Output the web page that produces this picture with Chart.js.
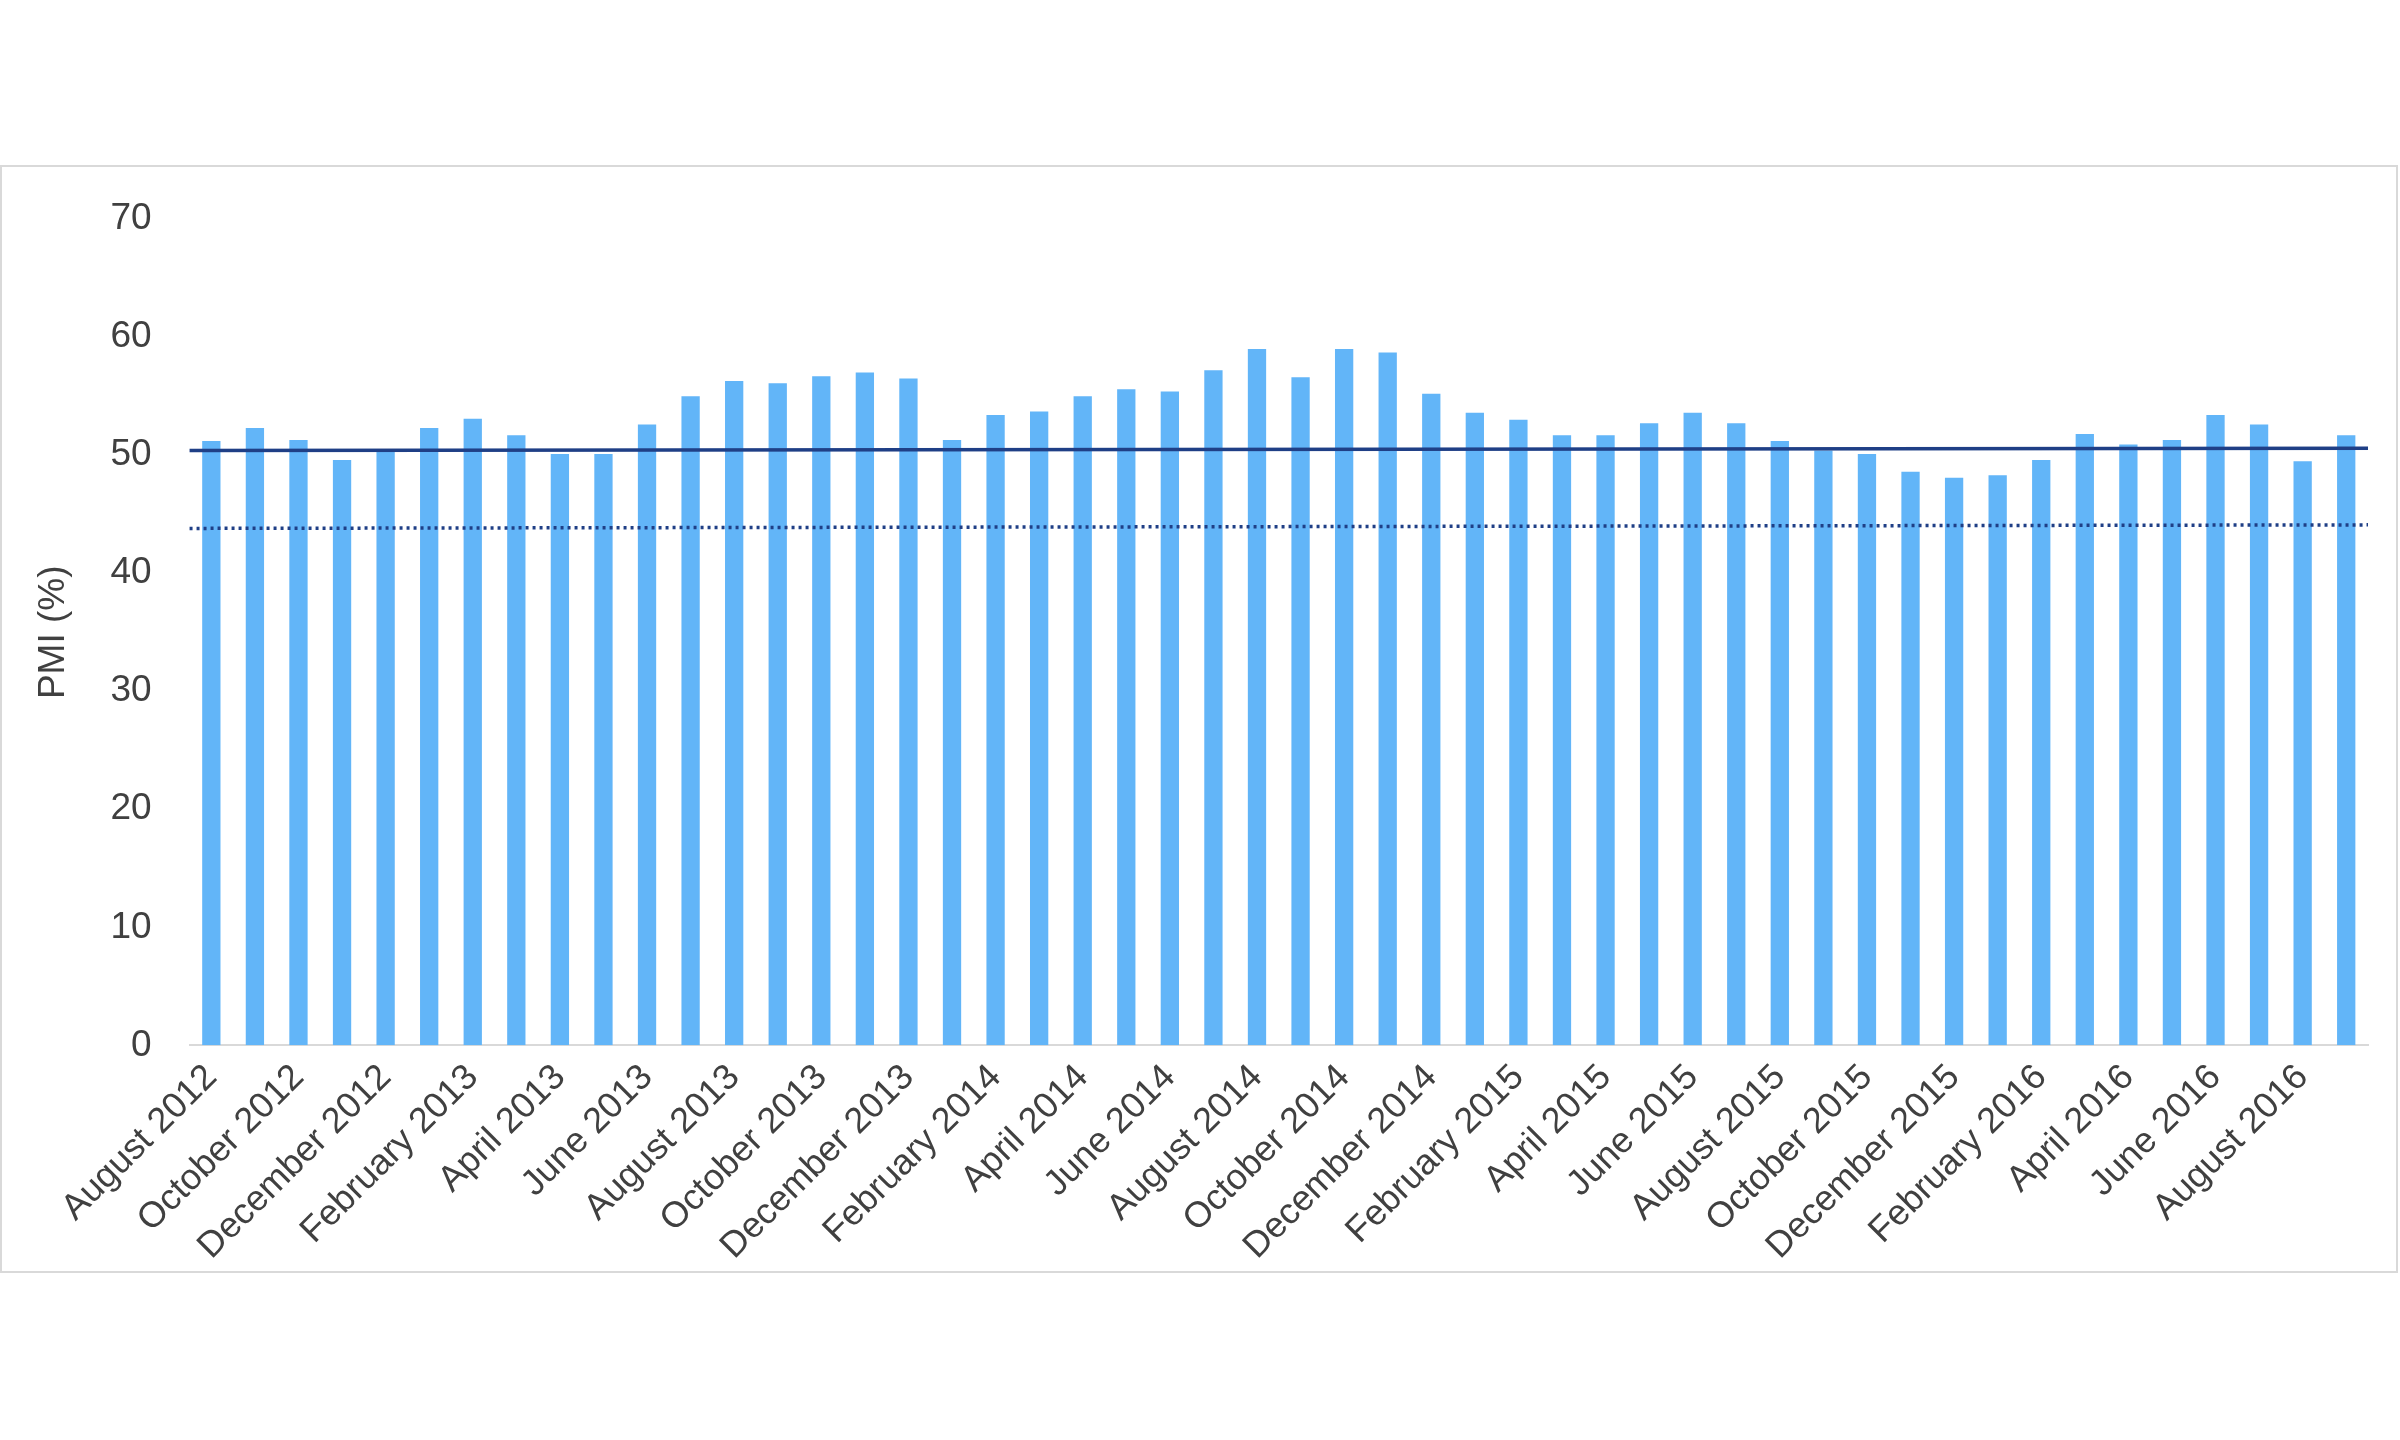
<!DOCTYPE html>
<html>
<head>
<meta charset="utf-8">
<script src="https://cdn.jsdelivr.net/npm/chart.js@4"></script>
<style>
  body { margin: 0; background: #fff; width: 2400px; height: 1440px; position: relative; }
  #box { position: absolute; left: 0; top: 165px; width: 2398px; height: 1108px; border: 2px solid #d9d9d9; box-sizing: border-box; }
  #wrap { position: absolute; left: 0; top: 0; width: 2396px; height: 1104px; }
</style>
</head>
<body>
<div id="box"><div id="wrap"><canvas id="c"></canvas></div></div>
<script>
const months = ['January','February','March','April','May','June','July','August','September','October','November','December'];
const labels = [];
for (let y = 2012, m = 7; labels.length < 50; m++) {
  if (m > 11) { m = 0; y++; }
  labels.push(months[m] + ' ' + y);
}
const pmi = [51.2,52.3,51.3,49.6,50.4,52.3,53.1,51.7,50.1,50.1,
  52.6,55.0,56.3,56.1,56.7,57.0,56.5,51.3,53.4,53.7,
  55.0,55.6,55.4,57.2,59.0,56.6,59.0,58.7,55.2,53.6,
  53.0,51.7,51.7,52.7,53.6,52.7,51.2,50.4,50.1,48.6,
  48.1,48.3,49.6,51.8,50.9,51.3,53.4,52.6,49.5,51.7];
// trend lines: value at left edge, value at right edge of plot
const trendSolid = [50.4, 50.6];
const trendDotted = [43.8, 44.1];

const trendPlugin = {
  id: 'trends',
  afterDatasetsDraw(chart) {
    const {ctx, chartArea: a, scales: {y}} = chart;
    const draw = (vals, color, dash, w) => {
      ctx.save();
      ctx.strokeStyle = color; ctx.lineWidth = w; ctx.setLineDash(dash);
      ctx.beginPath();
      ctx.moveTo(a.left, y.getPixelForValue(vals[0]));
      ctx.lineTo(a.right, y.getPixelForValue(vals[1]));
      ctx.stroke(); ctx.restore();
    };
    draw(trendSolid, '#1f3f86', [], 3.5);
    draw(trendDotted, '#1f3f86', [3, 4], 3.5);
  }
};

new Chart(document.getElementById('c'), {
  type: 'bar',
  data: { labels, datasets: [{ data: pmi, backgroundColor: '#62b5f8', categoryPercentage: 1, barPercentage: 0.42 }] },
  options: {
    responsive: true, maintainAspectRatio: false, animation: false,
    layout: { padding: { top: 14, right: 30, left: 26 } },
    plugins: { legend: { display: false }, tooltip: { enabled: false } },
    scales: {
      x: {
        grid: { display: false },
        border: { color: '#d9d9d9', width: 2 },
        ticks: {
          autoSkip: false, maxRotation: 45, minRotation: 45,
          color: '#404040', font: { family: 'Liberation Sans', size: 36 },
          callback: (v, i) => i % 2 === 0 ? labels[i] : ''
        }
      },
      y: {
        min: 0, max: 70,
        grid: { display: false },
        border: { display: false },
        ticks: { stepSize: 10, padding: 30, color: '#404040', font: { family: 'Liberation Sans', size: 37 } },
        title: { display: true, text: 'PMI (%)', color: '#404040', font: { family: 'Liberation Sans', size: 37 } }
      }
    }
  },
  plugins: [trendPlugin]
});
</script>
</body>
</html>
